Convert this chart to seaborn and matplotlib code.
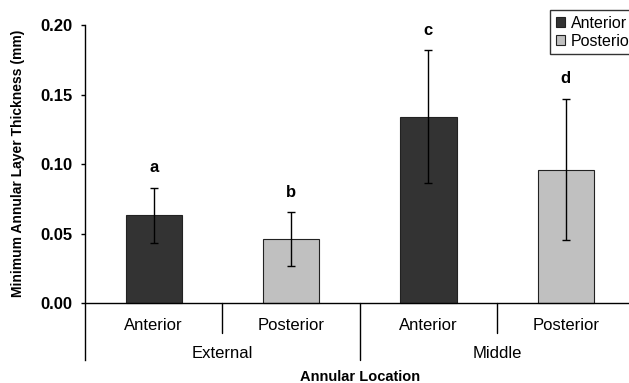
import numpy as np
import pandas as pd
import seaborn as sns
import matplotlib
matplotlib.use("Agg")
from matplotlib import pyplot as plt
from matplotlib.patches import Patch

# data
locations = ["External", "External", "Middle", "Middle"]
sides = ["Anterior", "Posterior", "Anterior", "Posterior"]
means = [0.063, 0.046, 0.134, 0.096]
errors = [0.0198, 0.0194, 0.048, 0.051]
letters = ["a", "b", "c", "d"]
y_ticks = [0.00, 0.05, 0.10, 0.15, 0.20]
colors = {"Anterior": "#333333", "Posterior": "#c0c0c0"}

sns.set_style("white")
plt.rcParams["font.family"] = ["Liberation Sans", "DejaVu Sans"]
plt.rcParams["text.color"] = "black"
plt.rcParams["ytick.color"] = "black"
plt.rcParams["axes.labelcolor"] = "black"

df = pd.DataFrame({"slot": range(4), "location": locations, "side": sides, "value": means})

fig = plt.figure(figsize=(6.29, 3.83), dpi=100)
ax = fig.add_axes([85 / 629, 23 / 383, 544 / 629, 335 / 383])

sns.barplot(data=df, x="slot", y="value", hue="side", dodge=False, palette=colors,
            width=0.41, edgecolor="#222222", linewidth=0.8, legend=False, ax=ax)
ax.errorbar(df["slot"], df["value"], yerr=errors, fmt="none", ecolor="black",
            elinewidth=1, capsize=3, capthick=1)

for i, (m, e, t) in enumerate(zip(means, errors, letters)):
    ax.text(i, m + e + 0.0144, t, ha="center", va="center", fontsize=12, fontweight="bold")

ax.set_ylim(-0.041, 0.20)
ax.set_xlim(-0.5, 3.46)
ax.set_yticks(y_ticks)
ax.set_yticklabels([f"{v:.2f}" for v in y_ticks], fontsize=12, fontweight="bold")
ax.tick_params(axis="y", direction="out", length=3, width=1, left=True, pad=6, colors="black")
ax.set_xticks([])
ax.set_xlabel("")
ax.set_ylabel("")
for s in ["top", "right", "bottom"]:
    ax.spines[s].set_visible(False)
ax.spines["left"].set_color("black")
ax.spines["left"].set_linewidth(1)
ax.axhline(0, color="black", lw=1, clip_on=False)

# category separators below the axis
for x in [0.5, 2.5]:
    ax.plot([x, x], [0, -0.0216], color="black", lw=1, clip_on=False)
ax.plot([1.5, 1.5], [0, -0.041], color="black", lw=1, clip_on=False)

for i, s in enumerate(sides):
    ax.text(i, -0.0165, s, ha="center", va="center", fontsize=12)
for i, loc in enumerate(["External", "Middle"]):
    ax.text(2 * i + 0.5, -0.036, loc, ha="center", va="center", fontsize=12)

fig.text(360 / 629, 1 - 377 / 383, "Annular Location", ha="center", va="center",
         fontsize=10.5, fontweight="bold")
fig.text(18 / 629, 1 - 163 / 383, "Minimum Annular Layer Thickness (mm)", ha="center",
         va="center", rotation=90, fontsize=10, fontweight="bold")

handles = [Patch(facecolor=colors[k], edgecolor="#222222", linewidth=0.8) for k in ["Anterior", "Posterior"]]
leg = fig.legend(handles, ["Anterior", "Posterior"], loc="upper left",
                 bbox_to_anchor=(550 / 629, 1 - 10 / 383), bbox_transform=fig.transFigure,
                 borderaxespad=0, fontsize=11.5, frameon=True, fancybox=False,
                 handlelength=0.6, handleheight=0.6, handletextpad=0.35,
                 labelspacing=0.2, borderpad=0.35)
leg.get_frame().set_edgecolor("black")
leg.get_frame().set_linewidth(1)

fig.savefig("out.png", dpi=100)
